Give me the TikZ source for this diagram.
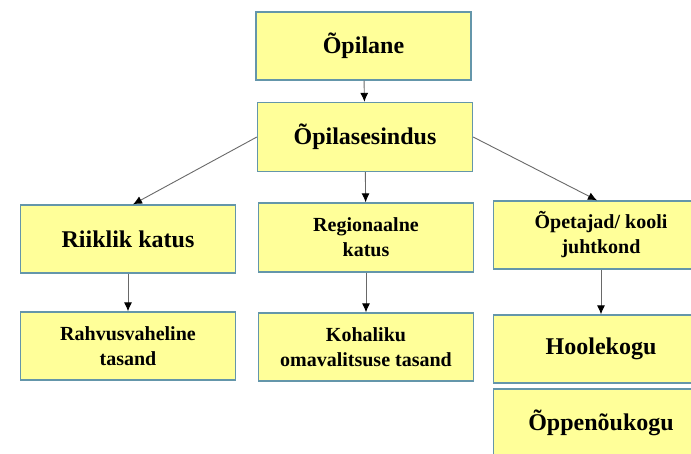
\documentclass[tikz,border=0pt]{standalone}
\usepackage{fontspec}
\setmainfont{Liberation Serif}
\usepackage{tikz}
\usetikzlibrary{arrows.meta}
\definecolor{kastkollane}{RGB}{255,255,153}
\definecolor{kastserv}{RGB}{100,150,170}
\definecolor{noolhall}{RGB}{105,105,105}
\tikzset{
  kast/.style={draw=kastserv, line width=1.3pt, fill=kastkollane, minimum width=215pt,
    minimum height=68pt, align=center, font=\bfseries\fontsize{20}{25}\selectfont},
  suur/.style={font=\bfseries\fontsize{24}{29}\selectfont},
  nool/.style={draw=noolhall, line width=0.9pt, -{Latex[length=9pt,width=8pt,color=black]}}
}
\begin{document}
\begin{tikzpicture}[x=1pt, y=-1pt]
    % valge taust ja piirid
    \fill[white] (0,0) rectangle (691,453);
    \clip (0,0) rectangle (691,453);

    % ylemine osa
    \node[kast, suur] (opilane) at (363.5,46) {Õpilane};
    \node[kast, suur, minimum height=69pt] (esindus) at (365,137) {Õpilasesindus};

    % kolm haru
    \node[kast, suur] (riiklik) at (128,239) {Riiklik katus};
    \node[kast, minimum height=69pt] (regio) at (366,237.5) {Regionaalne\\katus};
    \node[kast] (opetajad) at (601,235) {Õpetajad/ kooli\\juhtkond};

    % alumine rida
    \node[kast] (rahvus) at (128,346) {Rahvusvaheline\\tasand};
    \node[kast] (kohalik) at (366,347) {Kohaliku\\omavalitsuse tasand};
    \node[kast, suur] (hoole) at (601,349) {Hoolekogu};
    \node[kast, suur] (oppe) at (601,423) {Õppenõukogu};

    % nooled
    \draw[nool] (opilane) -- (esindus);
    \draw[nool] (esindus.west) -- ([xshift=5pt]riiklik.north);
    \draw[nool] (esindus) -- (regio);
    \draw[nool] (esindus.east) -- ([xshift=-4pt]opetajad.north);
    \draw[nool] (riiklik) -- (rahvus);
    \draw[nool] (regio) -- (kohalik);
    \draw[nool] (opetajad) -- (hoole);
\end{tikzpicture}
\end{document}
